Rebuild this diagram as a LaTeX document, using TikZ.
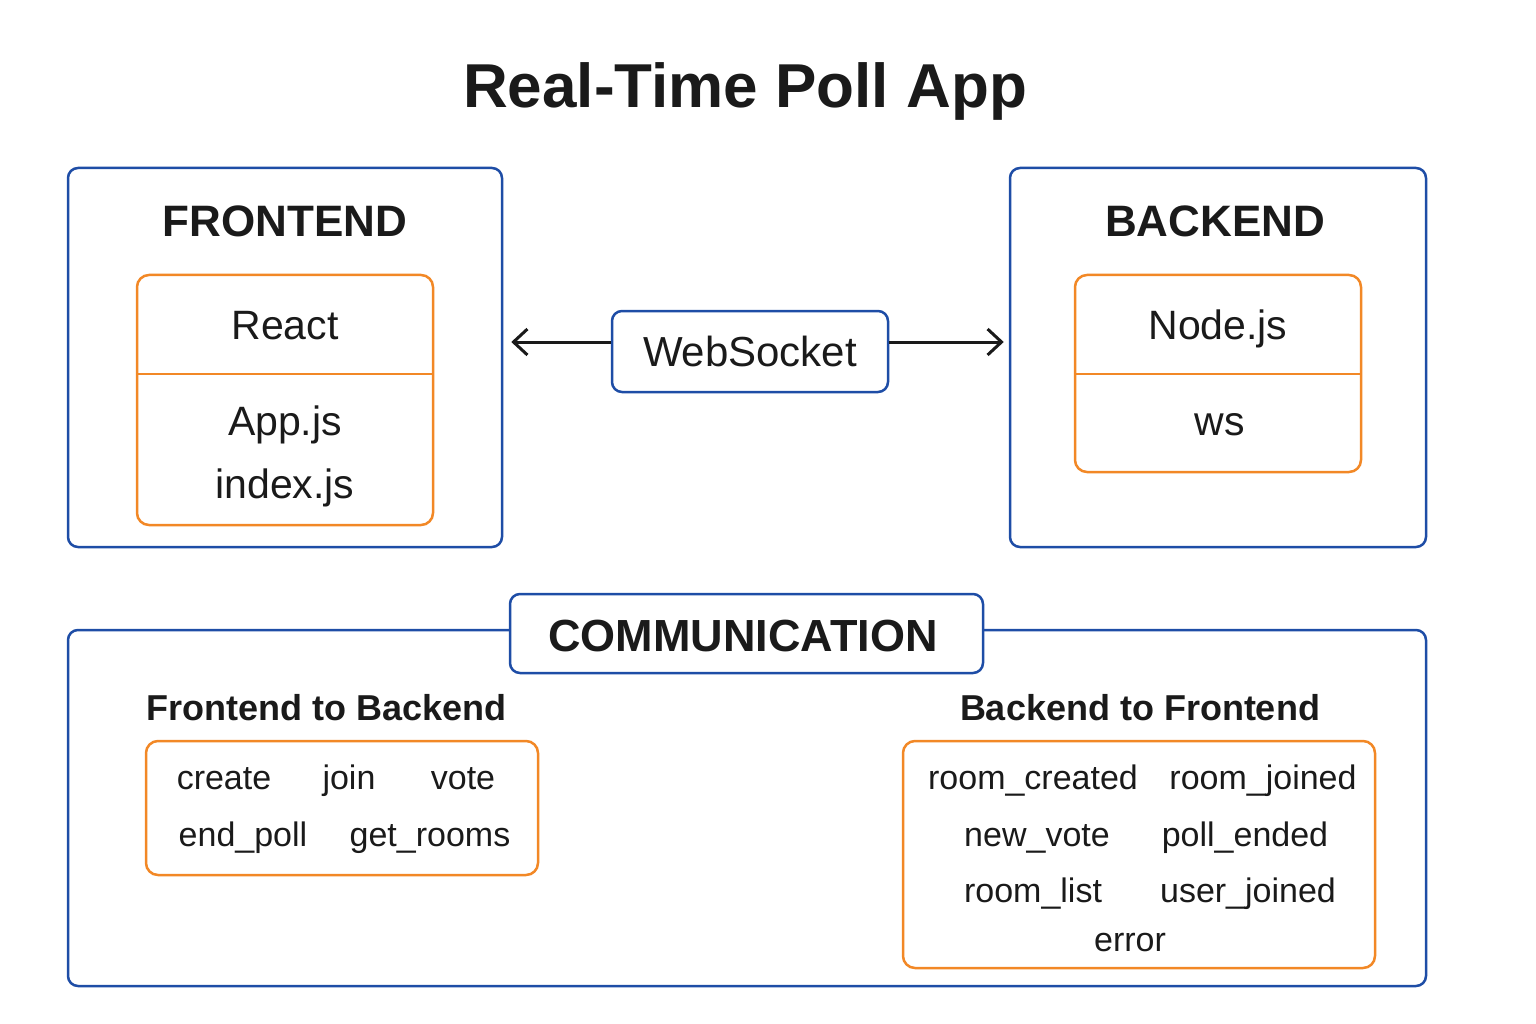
\documentclass[tikz,border=0pt]{standalone}
\usepackage{fontspec}
\setmainfont{Liberation Sans}
\usetikzlibrary{arrows.meta}

\definecolor{boxblue}{RGB}{30,77,166}
\definecolor{boxorange}{RGB}{242,136,38}
\definecolor{inkdark}{RGB}{26,26,26}

\tikzset{every picture/.style={line width=2.5pt},
  bluebox/.style={draw=boxblue, rounded corners=10pt, line width=2.5pt, inner sep=0pt},
  orangebox/.style={draw=boxorange, rounded corners=12pt, line width=2.5pt, inner sep=0pt},
  headtext/.style={text=inkdark, inner sep=0pt, anchor=base, font=\fontsize{44}{48}\selectfont\bfseries},
  itemtext/.style={text=inkdark, inner sep=0pt, anchor=base, font=\fontsize{41}{46}\selectfont},
  eventtext/.style={text=inkdark, inner sep=0pt, anchor=base, font=\fontsize{34}{38}\selectfont},
  subtext/.style={text=inkdark, inner sep=0pt, anchor=base, font=\fontsize{36}{40}\selectfont\bfseries},
  wsarrow/.style={draw=inkdark, line width=3pt, -{Straight Barb[length=14pt,width=26pt,line width=3pt]}}
}

\begin{document}
\begin{tikzpicture}[x=1pt,y=-1pt]
\useasboundingbox (0,0) rectangle (1536,1024);

% Title
\node [text=inkdark, inner sep=0pt, anchor=base, font=\fontsize{62}{66}\selectfont\bfseries] (title) at (745,108) {Real-Time Poll App};

% Frontend
\node [bluebox, minimum width=434pt, minimum height=379pt] (fe) at (285,357.5) {};
\node [headtext] (fehead) at (285,237) {FRONTEND};
\node [orangebox, minimum width=296pt, minimum height=250pt] (react) at (285,400) {};
\draw [boxorange] ([yshift=-100pt]react.north west) -- ([yshift=-100pt]react.north east);
\node [itemtext] (reacttxt) at (285,339) {React};
\node [itemtext] (appjs) at (285,435) {App.js};
\node [itemtext] (indexjs) at (285,498) {index.js};

% Backend
\node [bluebox, minimum width=416pt, minimum height=379pt] (be) at (1218,357.5) {};
\node [headtext] (behead) at (1215,237) {BACKEND};
\node [orangebox, minimum width=286pt, minimum height=197pt] (nodebox) at (1218,373.5) {};
\draw [boxorange] ([yshift=-100pt]nodebox.north west) -- ([yshift=-100pt]nodebox.north east);
\node [itemtext] (nodetxt) at (1218,339) {Node.js};
\node [itemtext] (wslib) at (1220,435) {ws};

% WebSocket link
\node [bluebox, minimum width=276pt, minimum height=81pt] (ws) at (750,351.5) {};
\node [itemtext, font=\fontsize{42}{46}\selectfont] (wstxt) at (750,366) {WebSocket};
\draw [wsarrow, shorten >=8pt] ([yshift=9.5pt]ws.west) -- ([yshift=9.5pt]ws.west -| fe.east);
\draw [wsarrow, shorten >=5pt] ([yshift=9.5pt]ws.east) -- ([yshift=9.5pt]ws.east -| be.west);

% Communication
\node [bluebox, minimum width=1358pt, minimum height=356pt] (comm) at (747,808) {};
\node [bluebox, fill=white, minimum width=473pt, minimum height=79pt] (commlabel) at (746.5,633.5) {};
\node [headtext, font=\fontsize{45}{48}\selectfont\bfseries] (commtxt) at (743,651) {COMMUNICATION};

\node [subtext, anchor=base west] (fbhead) at (145,720) {Frontend to Backend};
\node [subtext] (bfhead) at (1140,720) {Backend to Frontend};

% Frontend to Backend events
\node [orangebox, minimum width=392pt, minimum height=134pt] (fb) at (342,808) {};
\node [eventtext] (create) at (224,789) {create};
\node [eventtext] (join) at (349,789) {join};
\node [eventtext] (vote) at (463,789) {vote};
\node [eventtext] (endpoll) at (243,846) {end\_poll};
\node [eventtext] (getrooms) at (430,846) {get\_rooms};

% Backend to Frontend events
\node [orangebox, minimum width=472pt, minimum height=227pt] (bf) at (1139,854.5) {};
\node [eventtext] (roomcreated) at (1033,789) {room\_created};
\node [eventtext] (roomjoined) at (1263,789) {room\_joined};
\node [eventtext] (newvote) at (1037,846) {new\_vote};
\node [eventtext] (pollended) at (1245,846) {poll\_ended};
\node [eventtext] (roomlist) at (1033,902) {room\_list};
\node [eventtext] (userjoined) at (1248,902) {user\_joined};
\node [eventtext] (errortxt) at (1130,951) {error};

\end{tikzpicture}
\end{document}
